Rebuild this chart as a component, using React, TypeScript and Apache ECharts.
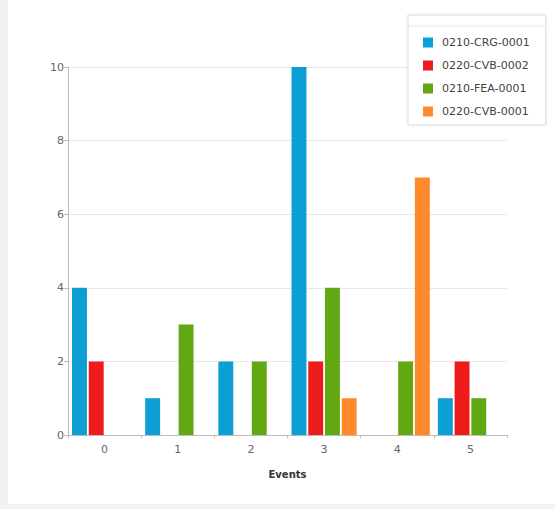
import React, { useEffect, useRef } from "react";
import * as echarts from "echarts";

const categories = ["0", "1", "2", "3", "4", "5"];
const seriesNames = ["0210-CRG-0001", "0220-CVB-0002", "0210-FEA-0001", "0220-CVB-0001"];
const crg0001 = [4, 1, 2, 10, null, 1];
const cvb0002 = [2, null, null, 2, null, 2];
const fea0001 = [null, 3, 2, 4, 2, 1];
const cvb0001 = [null, null, null, 1, 7, null];
const yTicks = { min: 0, max: 10, interval: 2 };
const colors = ["#0b9fd3", "#ee1b1b", "#62a812", "#ff8a2b"];

export default function App() {
  const ref = useRef<HTMLDivElement>(null);
  useEffect(() => {
    if (!ref.current) return;
    const chart = echarts.init(ref.current, undefined, { renderer: "svg" });
    const values = [crg0001, cvb0002, fea0001, cvb0001];
    const font = "DejaVu Sans";
    chart.setOption({
      animation: false,
      backgroundColor: "#ffffff",
      textStyle: { fontFamily: font },
      graphic: [
        { type: "rect", left: 0, top: 0, shape: { width: 8, height: 509 }, style: { fill: "#f1f1f1" }, z: -1 },
        { type: "rect", left: 0, top: 504, shape: { width: 555, height: 5 }, style: { fill: "#f4f4f4" }, z: -1 },
        { type: "line", shape: { x1: 409, y1: 26, x2: 547, y2: 26 }, style: { stroke: "#e6e6e6", lineWidth: 1 }, z: 10 },
      ],
      legend: {
        orient: "vertical",
        left: 408,
        top: 15,
        width: 140,
        padding: [22, 16, 8, 15],
        backgroundColor: "#ffffff",
        borderColor: "#dcdcdc",
        borderWidth: 1,
        shadowColor: "rgba(0,0,0,0.08)",
        shadowBlur: 3,
        itemWidth: 10,
        itemHeight: 10,
        itemGap: 12,
        icon: "rect",
        z: 5,
        data: seriesNames,
        textStyle: { fontFamily: font, fontSize: 11, color: "#444", padding: [0, 0, 0, 4] },
      },
      grid: { left: 68, right: 48, top: 67, bottom: 74, containLabel: false },
      xAxis: {
        type: "category",
        data: categories,
        name: "Events",
        nameLocation: "middle",
        nameGap: 34,
        nameTextStyle: { fontFamily: font, fontSize: 10, fontWeight: "bold", color: "#333" },
        axisLine: { lineStyle: { color: "#bbbbbb" } },
        axisTick: { show: true, length: 3, lineStyle: { color: "#bbbbbb" } },
        axisLabel: { fontFamily: font, fontSize: 11, color: "#666", margin: 9 },
      },
      yAxis: {
        type: "value",
        min: yTicks.min,
        max: yTicks.max,
        interval: yTicks.interval,
        axisLine: { show: true, lineStyle: { color: "#bbbbbb" } },
        axisTick: { show: true, length: 4, lineStyle: { color: "#bbbbbb" } },
        axisLabel: { fontFamily: font, fontSize: 11, color: "#666", margin: 4 },
        splitLine: { lineStyle: { color: "#e8e8e8" } },
      },
      series: seriesNames.map((name, i) => ({
        name,
        type: "bar",
        data: values[i],
        barCategoryGap: "11%",
        barGap: "12%",
        itemStyle: { color: colors[i] },
      })),
    });
    return () => chart.dispose();
  }, []);
  return <div ref={ref} style={{ position: "absolute", left: 0, top: 0, width: 555, height: 509 }} />;
}
